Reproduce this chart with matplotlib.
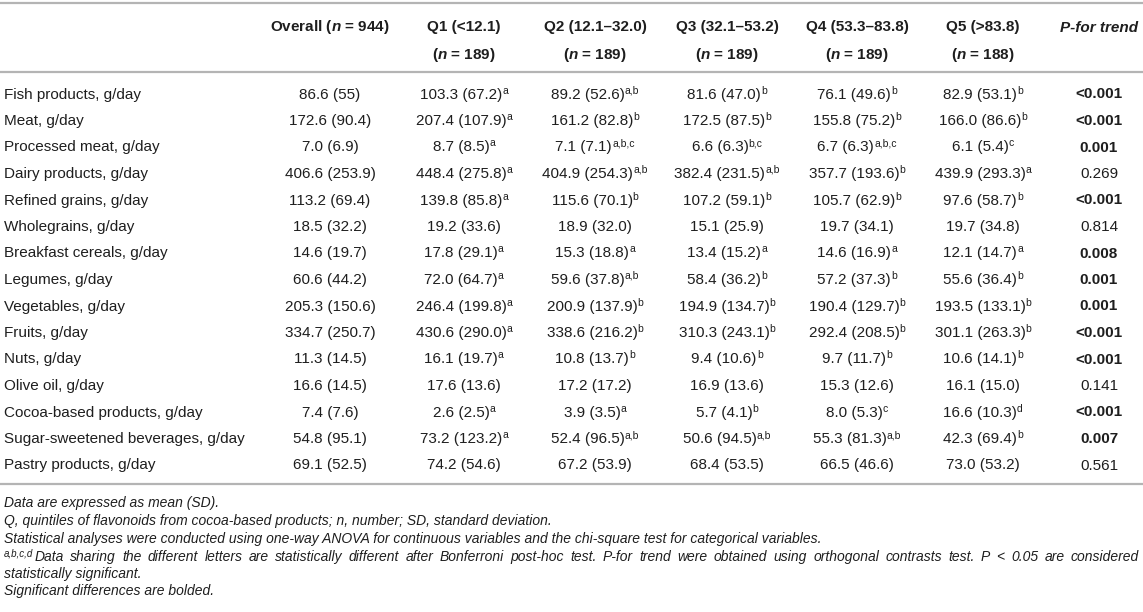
import matplotlib
matplotlib.use("Agg")
import matplotlib.pyplot as plt

plt.rcParams["font.family"] = ["Liberation Sans", "DejaVu Sans"]
plt.rcParams["mathtext.fontset"] = "custom"
plt.rcParams["mathtext.rm"] = "Liberation Sans"
plt.rcParams["mathtext.it"] = "Liberation Sans:italic"
plt.rcParams["mathtext.bf"] = "Liberation Sans:bold"
plt.rcParams["mathtext.bfit"] = "Liberation Sans:italic:bold"

# ---- data ----
foods = ["Fish products, g/day", "Meat, g/day", "Processed meat, g/day",
         "Dairy products, g/day", "Refined grains, g/day", "Wholegrains, g/day",
         "Breakfast cereals, g/day", "Legumes, g/day", "Vegetables, g/day",
         "Fruits, g/day", "Nuts, g/day", "Olive oil, g/day",
         "Cocoa-based products, g/day", "Sugar-sweetened beverages, g/day",
         "Pastry products, g/day"]

overall = ["86.6 (55)", "172.6 (90.4)", "7.0 (6.9)", "406.6 (253.9)", "113.2 (69.4)",
           "18.5 (32.2)", "14.6 (19.7)", "60.6 (44.2)", "205.3 (150.6)", "334.7 (250.7)",
           "11.3 (14.5)", "16.6 (14.5)", "7.4 (7.6)", "54.8 (95.1)", "69.1 (52.5)"]

q1 = ["103.3 (67.2)", "207.4 (107.9)", "8.7 (8.5)", "448.4 (275.8)", "139.8 (85.8)",
      "19.2 (33.6)", "17.8 (29.1)", "72.0 (64.7)", "246.4 (199.8)", "430.6 (290.0)",
      "16.1 (19.7)", "17.6 (13.6)", "2.6 (2.5)", "73.2 (123.2)", "74.2 (54.6)"]
q1_sup = ["a", "a", "a", "a", "a", "", "a", "a", "a", "a", "a", "", "a", "a", ""]

q2 = ["89.2 (52.6)", "161.2 (82.8)", "7.1 (7.1)", "404.9 (254.3)", "115.6 (70.1)",
      "18.9 (32.0)", "15.3 (18.8)", "59.6 (37.8)", "200.9 (137.9)", "338.6 (216.2)",
      "10.8 (13.7)", "17.2 (17.2)", "3.9 (3.5)", "52.4 (96.5)", "67.2 (53.9)"]
q2_sup = ["a,b", "b", "a,b,c", "a,b", "b", "", "a", "a,b", "b", "b", "b", "", "a", "a,b", ""]

q3 = ["81.6 (47.0)", "172.5 (87.5)", "6.6 (6.3)", "382.4 (231.5)", "107.2 (59.1)",
      "15.1 (25.9)", "13.4 (15.2)", "58.4 (36.2)", "194.9 (134.7)", "310.3 (243.1)",
      "9.4 (10.6)", "16.9 (13.6)", "5.7 (4.1)", "50.6 (94.5)", "68.4 (53.5)"]
q3_sup = ["b", "b", "b,c", "a,b", "b", "", "a", "b", "b", "b", "b", "", "b", "a,b", ""]

q4 = ["76.1 (49.6)", "155.8 (75.2)", "6.7 (6.3)", "357.7 (193.6)", "105.7 (62.9)",
      "19.7 (34.1)", "14.6 (16.9)", "57.2 (37.3)", "190.4 (129.7)", "292.4 (208.5)",
      "9.7 (11.7)", "15.3 (12.6)", "8.0 (5.3)", "55.3 (81.3)", "66.5 (46.6)"]
q4_sup = ["b", "b", "a,b,c", "b", "b", "", "a", "b", "b", "b", "b", "", "c", "a,b", ""]

q5 = ["82.9 (53.1)", "166.0 (86.6)", "6.1 (5.4)", "439.9 (293.3)", "97.6 (58.7)",
      "19.7 (34.8)", "12.1 (14.7)", "55.6 (36.4)", "193.5 (133.1)", "301.1 (263.3)",
      "10.6 (14.1)", "16.1 (15.0)", "16.6 (10.3)", "42.3 (69.4)", "73.0 (53.2)"]
q5_sup = ["b", "b", "c", "a", "b", "", "a", "b", "b", "b", "b", "", "d", "b", ""]

p_trend = ["<0.001", "<0.001", "0.001", "0.269", "<0.001", "0.814", "0.008", "0.001",
           "0.001", "<0.001", "<0.001", "0.141", "<0.001", "0.007", "0.561"]

headers1 = [r"Overall ($\mathbfit{n}$ = 944)", "Q1 (<12.1)", "Q2 (12.1–32.0)",
            "Q3 (32.1–53.2)", "Q4 (53.3–83.8)", "Q5 (>83.8)"]
group_n = ["", "189", "189", "189", "189", "188"]

note_sup = "a,b,c,d"
footnotes = [
    "Data are expressed as mean (SD).",
    "Q, quintiles of flavonoids from cocoa-based products; n, number; SD, standard deviation.",
    "Statistical analyses were conducted using one-way ANOVA for continuous variables "
    "and the chi-square test for categorical variables.",
    "Data sharing the different letters are statistically different after "
    "Bonferroni post-hoc test. P-for trend were obtained using orthogonal contrasts test. "
    "P < 0.05 are considered",
    "statistically significant.",
    "Significant differences are bolded.",
]

# ---- layout ----
W, H = 1143, 612
col_x = [330, 464, 595, 727, 857, 983]
p_x = 1099
row_y0, row_dy = 93, 26.5
txt = "#1e1e1e"
rule = "#b4b4b4"
fs = 11
fs_note = 10

fig = plt.figure(figsize=(W / 100, H / 100), dpi=100)
ax = fig.add_axes([0, 0, 1, 1])
ax.set_xlim(0, W)
ax.set_ylim(H, 0)
ax.axis("off")
renderer = fig.canvas.get_renderer()


def width(s, **kw):
    t = ax.text(0, 0, s, **kw)
    w = t.get_window_extent(renderer).width
    t.remove()
    return w


for y in [3, 72, 484]:
    ax.axhline(y, color=rule, lw=1.6)

# header
for x, h, n in zip(col_x, headers1, group_n):
    ax.text(x, 26 + 5.5, h, ha="center", va="baseline", fontsize=fs,
            fontweight="bold", color=txt)
    if n:
        ax.text(x, 53 + 5.5, r"($\mathbfit{n}$ = " + n + ")", ha="center",
                va="baseline", fontsize=fs, fontweight="bold", color=txt)
ax.text(p_x, 26 + 5.5, "P-for trend", ha="center", va="baseline", fontsize=fs,
        fontweight="bold", fontstyle="italic", color=txt)


def cell(cx, yb, main, sup):
    wm = width(main, fontsize=fs)
    ws = width(sup, fontsize=fs * 0.68) if sup else 0
    x0 = cx - (wm + ws) / 2
    ax.text(x0, yb, main, ha="left", va="baseline", fontsize=fs, color=txt)
    if sup:
        ax.text(x0 + wm, yb - 5, sup, ha="left", va="baseline",
                fontsize=fs * 0.68, color=txt)


cols = [(overall, [""] * len(foods)), (q1, q1_sup), (q2, q2_sup),
        (q3, q3_sup), (q4, q4_sup), (q5, q5_sup)]

for i, food in enumerate(foods):
    yb = row_y0 + i * row_dy + 5.5
    ax.text(4, yb, food, ha="left", va="baseline", fontsize=fs, color=txt)
    for x, (vals, sups) in zip(col_x, cols):
        cell(x, yb, vals[i], sups[i])
    p = p_trend[i]
    sig = float(p.lstrip("<")) < 0.05
    ax.text(p_x, yb, p, ha="center", va="baseline", fontsize=fs, color=txt,
            fontweight="bold" if sig else "normal")

# footnotes
note_y = [502, 520, 538, 556, 573, 590]
nkw = dict(fontsize=fs_note, fontstyle="italic", color=txt, va="baseline")
for k, (y, t) in enumerate(zip(note_y, footnotes)):
    yb = y + 5
    if k != 3:
        ax.text(4, yb, t, ha="left", **nkw)
        continue
    # superscript letters, then a justified line up to the right edge
    ax.text(4, yb - 4.5, note_sup, ha="left", fontsize=fs_note * 0.7,
            fontstyle="italic", color=txt, va="baseline")
    xs = 4 + width(note_sup, fontsize=fs_note * 0.7, fontstyle="italic") + 1
    words = t.split(" ")
    ww = [width(w, fontsize=fs_note, fontstyle="italic") for w in words]
    gap = (1139 - xs - sum(ww)) / (len(words) - 1)
    x = xs
    for w, wd in zip(words, ww):
        ax.text(x, yb, w, ha="left", **nkw)
        x += wd + gap

fig.savefig("out.png", dpi=100)
